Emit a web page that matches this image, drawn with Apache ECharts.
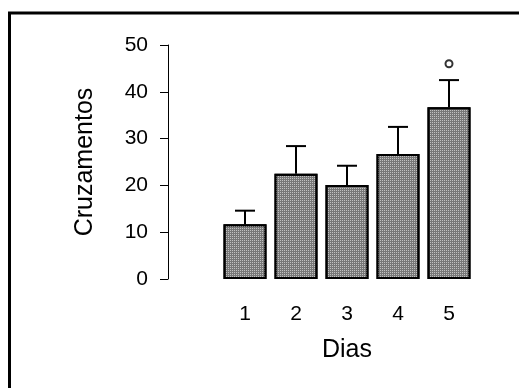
<!DOCTYPE html>
<html>
<head>
<meta charset="utf-8">
<script src="https://cdn.jsdelivr.net/npm/echarts@6/dist/echarts.min.js"></script>
<style>
  html, body { margin: 0; padding: 0; background: #fff; }
  #chart { width: 519px; height: 388px; }
</style>
</head>
<body>
<div id="chart"></div>
<script>
var dias = ['1', '2', '3', '4', '5'];
var medias = [11.7, 22.5, 20.1, 26.7, 36.7];
var erros = [2.9, 5.9, 4.1, 5.8, 5.8];
var marcas = [[4, 46.0]]; // circulo acima do dia 5
var yTicks = { min: 0, max: 50, interval: 10 };

var chart = echarts.init(document.getElementById('chart'));

var erroData = [];
for (var i = 0; i < dias.length; i++) {
  erroData.push([i, medias[i], medias[i] + erros[i]]);
}

var option = {
  animation: false,
  textStyle: { fontFamily: 'Liberation Sans, Arial, sans-serif' },
  graphic: [{
    type: 'rect',
    shape: { x: 9.5, y: 13, width: 600, height: 500 },
    style: { fill: 'none', stroke: '#000', lineWidth: 3 },
    silent: true
  }],
  grid: { left: 219.5, right: 44.5, top: 45, bottom: 109 },
  xAxis: {
    type: 'category',
    data: dias,
    name: 'Dias',
    nameLocation: 'middle',
    nameGap: 59,
    nameTextStyle: { fontSize: 25, color: '#000' },
    axisLine: { show: false },
    axisTick: { show: false },
    axisLabel: { fontSize: 21, color: '#000', margin: 25 }
  },
  yAxis: {
    type: 'value',
    min: yTicks.min,
    max: yTicks.max,
    interval: yTicks.interval,
    offset: 51.5,
    name: 'Cruzamentos',
    nameLocation: 'middle',
    nameRotate: 90,
    nameGap: 70,
    nameTextStyle: { fontSize: 25, color: '#000' },
    axisLine: { show: true, lineStyle: { color: '#000', width: 1 } },
    axisTick: { show: true, length: 8, lineStyle: { color: '#000' } },
    axisLabel: { fontSize: 21, color: '#000', margin: 20 },
    splitLine: { show: false }
  },
  series: [{
    type: 'bar',
    data: medias,
    barWidth: 43,
    itemStyle: {
      color: '#777',
      borderColor: '#000',
      borderWidth: 2,
      decal: {
        symbol: 'rect',
        symbolSize: 1,
        dashArrayX: [1, 1],
        dashArrayY: [1, 1],
        color: 'rgba(255,255,255,0.55)',
        rotation: 0
      }
    },
    z: 2
  }, {
    type: 'custom',
    data: erroData,
    z: 3,
    renderItem: function (params, api) {
      var base = api.coord([api.value(0), api.value(1)]);
      var topo = api.coord([api.value(0), api.value(2)]);
      var x = Math.round(base[0]);
      var meio = 10;
      return {
        type: 'group',
        children: [{
          type: 'line',
          shape: { x1: x, y1: base[1], x2: x, y2: topo[1] },
          style: { stroke: '#000', lineWidth: 2 }
        }, {
          type: 'line',
          shape: { x1: x - meio, y1: topo[1], x2: x + meio, y2: topo[1] },
          style: { stroke: '#000', lineWidth: 2 }
        }]
      };
    }
  }, {
    type: 'scatter',
    data: marcas,
    symbol: 'emptyCircle',
    symbolSize: 7,
    itemStyle: { color: '#000', borderColor: '#000', borderWidth: 1.5 },
    z: 4
  }]
};

chart.setOption(option);
</script>
</body>
</html>
